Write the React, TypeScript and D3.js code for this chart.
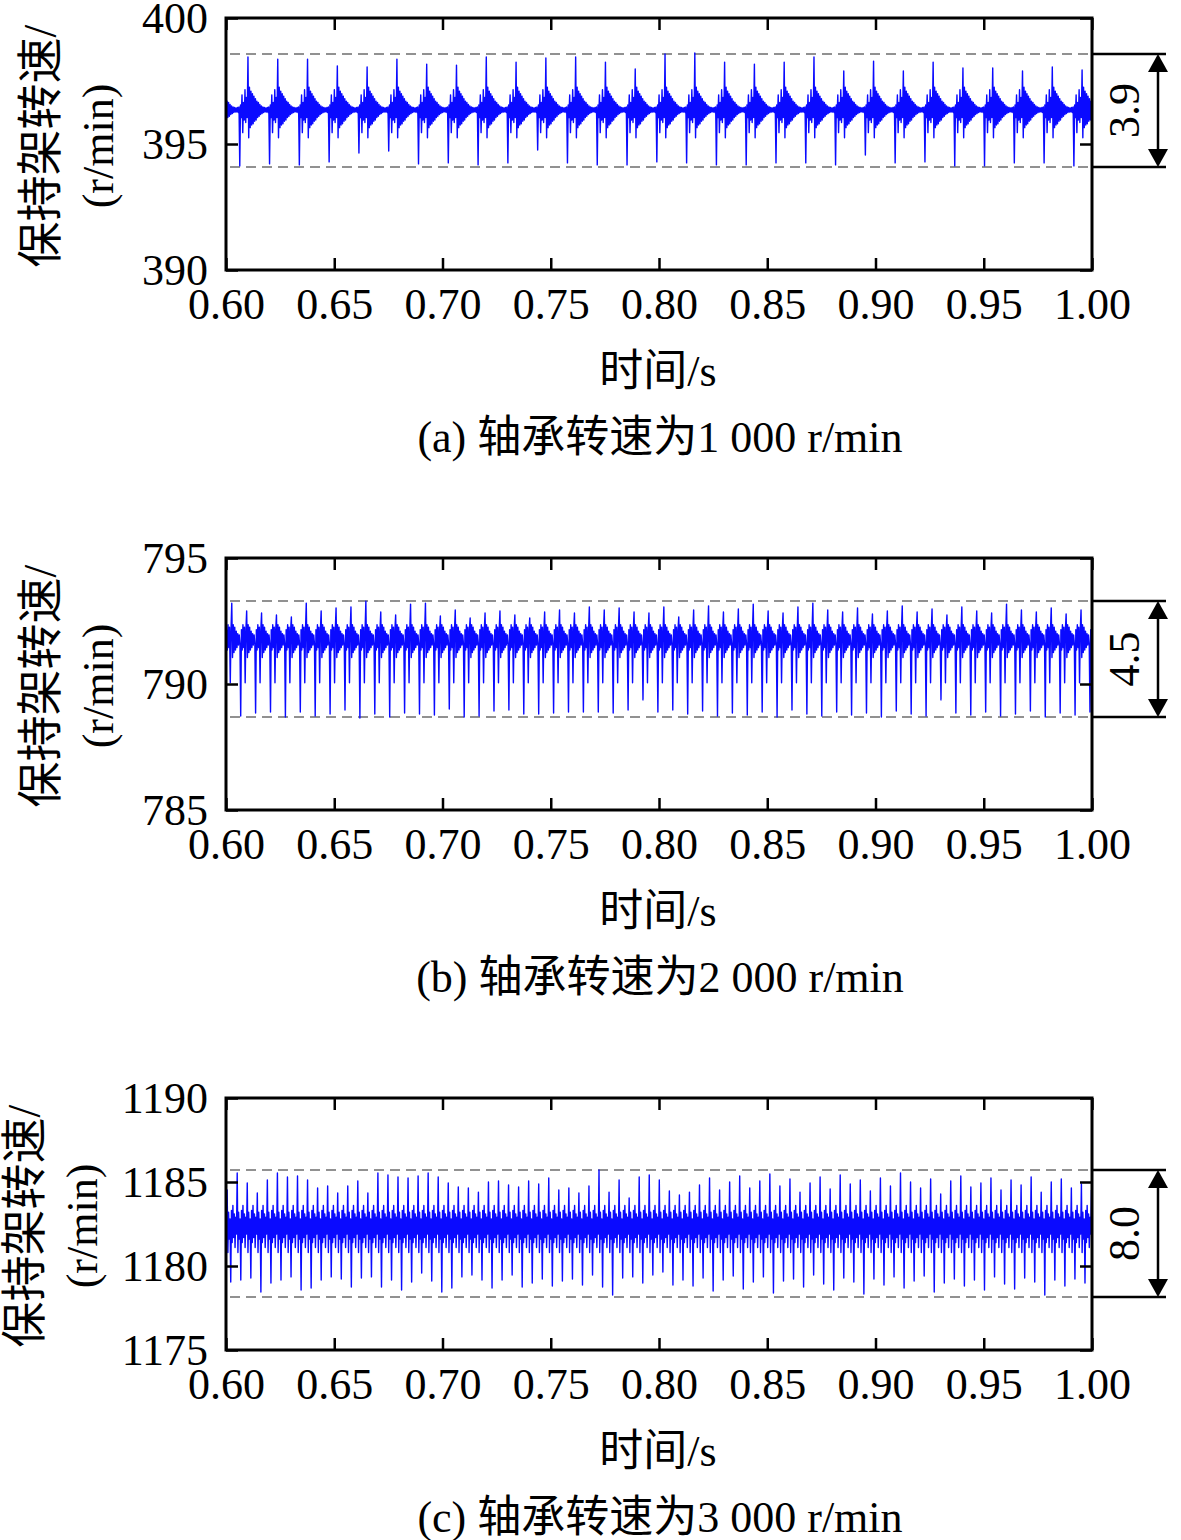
import * as d3 from "d3";
import React from "react";

// shared time axis
const timeDomain: [number, number] = [0.6, 1.0];
const timeTicks = [0.6, 0.65, 0.7, 0.75, 0.8, 0.85, 0.9, 0.95, 1.0];
const timeTitle = "时间/s";
const yTitle = ["保持架转速/", "(r/min)"];

// (a) 1 000 r/min
const yTicksA = [390, 395, 400];
const meanA = 396.35;
const firstSpikeA = 0.5926;
const spikePeriodA = 0.01376;
// one burst, offsets from the mean; index 0 = trough, index 11 = peak
const burstA = [
  0, 0.2, -0.3, 0.6, -0.9, 0.3, -0.4, 0.8, -0.5, 0.5, -0.3, 0, -1.1, 0.9, -0.7, 0.75, -0.6, 0.65, -0.55, 0.55,
  -0.45, 0.45, -0.4, 0.35, -0.3, 0.3, -0.25, 0.22, -0.18, 0.16, -0.14, 0.12, -0.1, 0.1, -0.08, 0.08, -0.08, 0.1,
  -0.1, 0.12,
];
const peaksA = [
  398.2, 398.45, 398.37, 398.37, 398.1, 398.06, 398.37, 398.17, 398.13, 398.45, 398.25, 398.41, 398.45, 398.25,
  397.98, 398.57, 398.61, 398.25, 398.17, 398.25, 398.45, 397.9, 398.29, 397.9, 398.25, 398.02, 398.02, 397.9,
  398.06, 397.94, 398.2,
];
const troughsA = [
  394.2, 394.13, 394.21, 394.17, 394.29, 394.64, 394.72, 394.21, 394.25, 394.17, 394.25, 394.76, 394.25, 394.17,
  394.17, 394.29, 394.25, 394.17, 394.17, 394.25, 394.25, 394.17, 394.56, 394.25, 394.29, 394.13, 394.13, 394.25,
  394.25, 394.13, 394.2,
];
const boundsA = [398.57, 394.09];
const rangeA = "3.9";
const captionA = "(a) 轴承转速为1 000 r/min";

// (b) 2 000 r/min
const yTicksB = [785, 790, 795];
const meanB = 791.75;
const firstSpikeB = 0.59991;
const spikePeriodB = 0.006882;
// index 0 = trough, index 8 = peak
const burstB = [
  0, 0.4, -0.4, 0.6, -0.3, 0.5, -1.7, 0.4, 0, -0.7, 0.6, -0.5, 0.5, -0.4, 0.35, -0.3, 0.25, -0.2, 0.2, -0.15,
];
const peaksB = [
  793.21, 792.9, 792.82, 792.74, 792.66, 793.21, 792.9, 793.02, 793.06, 793.29, 792.86, 792.74, 793.17, 793.21,
  792.7, 792.94, 792.62, 792.82, 792.9, 792.74, 792.62, 792.86, 792.94, 792.82, 793.06, 792.94, 793.02, 792.86,
  792.82, 793.06, 792.66, 792.94, 793.1, 792.86, 792.98, 793.17, 792.9, 792.82, 793.06, 793.21, 792.94, 792.86,
  793.02, 792.78, 792.9, 793.1, 792.86, 792.98, 792.74, 793.06, 792.9, 792.82, 793.17, 792.94, 792.86, 793.02,
  792.78, 792.94, 792.86,
];
const troughsB = [
  788.81, 788.73, 788.85, 788.89, 788.69, 788.89, 788.73, 788.81, 788.97, 788.65, 788.81, 788.69, 788.85, 788.81,
  788.77, 789.01, 788.69, 788.73, 788.93, 788.97, 788.81, 788.81, 788.85, 788.89, 788.89, 788.89, 788.85, 788.97,
  789.37, 788.89, 788.97, 788.81, 788.93, 788.73, 788.85, 788.77, 788.89, 788.69, 788.97, 788.81, 788.73, 788.89,
  788.77, 788.85, 788.69, 788.93, 788.81, 788.73, 789.37, 788.85, 788.77, 788.89, 788.73, 788.81, 788.93, 788.69,
  788.85, 788.77, 788.89,
];
const boundsB = [793.29, 788.69];
const rangeB = "4.5";
const captionB = "(b) 轴承转速为2 000 r/min";

// (c) 3 000 r/min
const yTicksC = [1175, 1180, 1185, 1190];
const meanC = 1182.3;
const firstSpikeC = 0.59755;
const spikePeriodC = 0.004642;
// index 0 = trough, index 9 = peak
const burstC = [0, 1.0, -0.9, 1.3, -0.6, 0.8, -1.2, 0.6, -0.4, 0, -1.5, 0.9, -0.7, 0.5];
const peaksC = [
  1184.52, 1185.54, 1184.94, 1184.35, 1185.12, 1185.54, 1185.3, 1185.36, 1185.12, 1184.64, 1184.76, 1184.35,
  1184.76, 1185.06, 1184.35, 1185.54, 1185.42, 1185.3, 1185.24, 1185.36, 1185.54, 1185.3, 1184.94, 1184.7,
  1184.64, 1184.4, 1185.0, 1185.06, 1184.82, 1184.7, 1185.06, 1184.88, 1185.24, 1184.52, 1184.64, 1184.35,
  1184.76, 1185.71, 1184.4, 1185.12, 1184.05, 1185.3, 1185.42, 1185.12, 1184.46, 1184.23, 1184.4, 1184.82,
  1185.24, 1184.52, 1185.0, 1185.36, 1184.64, 1185.06, 1185.48, 1184.76, 1185.18, 1184.4, 1184.94, 1185.3,
  1184.58, 1185.42, 1184.88, 1185.12, 1184.46, 1185.24, 1184.76, 1185.54, 1185.0, 1184.64, 1185.18, 1184.29,
  1185.06, 1185.36, 1184.7, 1184.94, 1185.24, 1184.52, 1185.12, 1184.82, 1185.3, 1184.4, 1185.0, 1185.18,
  1184.64, 1184.88, 1184.52,
];
const troughsC = [
  1179.17, 1179.05, 1179.17, 1179.29, 1178.45, 1178.99, 1179.17, 1179.35, 1178.57, 1178.69, 1179.17, 1179.35,
  1179.23, 1178.75, 1179.29, 1179.35, 1178.75, 1179.17, 1178.57, 1179.05, 1179.58, 1179.11, 1178.45, 1178.69,
  1179.35, 1179.46, 1179.17, 1178.69, 1179.17, 1179.46, 1178.75, 1178.99, 1179.23, 1178.81, 1179.11, 1179.23,
  1178.87, 1179.46, 1178.75, 1178.27, 1179.29, 1179.35, 1178.99, 1179.46, 1179.64, 1178.87, 1179.17, 1178.81,
  1179.29, 1178.51, 1179.17, 1179.4, 1178.63, 1179.05, 1179.35, 1178.39, 1179.11, 1179.23, 1178.75, 1179.46,
  1178.93, 1178.57, 1179.29, 1179.05, 1178.33, 1179.23, 1178.87, 1179.35, 1178.69, 1179.11, 1179.4, 1178.45,
  1178.99, 1179.23, 1178.81, 1179.17, 1178.57, 1179.35, 1178.93, 1178.63, 1179.29, 1179.05, 1178.27, 1179.17,
  1178.81, 1179.23, 1178.99,
];
const boundsC = [1185.71, 1178.15];
const rangeC = "8.0";
const captionC = "(c) 轴承转速为3 000 r/min";

interface PanelSpec {
  id: string;
  yTicks: number[];
  mean: number;
  firstSpike: number;
  period: number;
  burst: number[];
  troughIdx: number;
  peakIdx: number;
  peaks: number[];
  troughs: number[];
  bounds: number[];
  range: string;
  caption: string;
  titleX: [number, number];
}

const panels: PanelSpec[] = [
  { id: "a", yTicks: yTicksA, mean: meanA, firstSpike: firstSpikeA, period: spikePeriodA, burst: burstA,
    troughIdx: 0, peakIdx: 11, peaks: peaksA, troughs: troughsA, bounds: boundsA, range: rangeA,
    caption: captionA, titleX: [40, 98] },
  { id: "b", yTicks: yTicksB, mean: meanB, firstSpike: firstSpikeB, period: spikePeriodB, burst: burstB,
    troughIdx: 0, peakIdx: 8, peaks: peaksB, troughs: troughsB, bounds: boundsB, range: rangeB,
    caption: captionB, titleX: [40, 98] },
  { id: "c", yTicks: yTicksC, mean: meanC, firstSpike: firstSpikeC, period: spikePeriodC, burst: burstC,
    troughIdx: 0, peakIdx: 9, peaks: peaksC, troughs: troughsC, bounds: boundsC, range: rangeC,
    caption: captionC, titleX: [24, 82] },
];

const W = 1181;
const H = 1540;
const left = 226;
const plotW = 866;
const plotH = 252;
const tops = [18, 558, 1098];
const serif = "'Liberation Serif', 'Times New Roman', 'Noto Sans CJK SC', serif";
const mixed = "'Liberation Serif', 'Noto Sans CJK SC', serif";

type Pt = { t: number; v: number };

function buildSignal(p: PanelSpec): Pt[] {
  const n = p.burst.length;
  const pts: Pt[] = [];
  p.peaks.forEach((peak, k) => {
    p.burst.forEach((off, i) => {
      const t = p.firstSpike + (k + i / n) * p.period;
      let v = p.mean + off;
      if (i === p.troughIdx) v = p.troughs[k] ?? v;
      if (i === p.peakIdx) v = peak;
      pts.push({ t, v });
    });
  });
  return pts.filter((d) => d.t >= timeDomain[0] && d.t <= timeDomain[1]);
}

export default function App() {
  const svgRef = React.useRef<SVGSVGElement | null>(null);

  React.useEffect(() => {
    const svgEl = d3.select(svgRef.current);
    svgEl.selectAll("*").remove();

    panels.forEach((p, idx) => {
      const top = tops[idx];
      const x = d3.scaleLinear().domain(timeDomain).range([0, plotW]);
      const y = d3
        .scaleLinear()
        .domain([p.yTicks[0], p.yTicks[p.yTicks.length - 1]])
        .range([plotH, 0]);

      const g = svgEl.append("g").attr("transform", `translate(${left},${top})`);

      g.append("clipPath")
        .attr("id", `clip-${p.id}`)
        .append("rect")
        .attr("width", plotW)
        .attr("height", plotH);

      // bound lines
      p.bounds.forEach((b) => {
        g.append("line")
          .attr("x1", 4)
          .attr("x2", plotW)
          .attr("y1", y(b))
          .attr("y2", y(b))
          .attr("stroke", "#6e6e6e")
          .attr("stroke-width", 1.5)
          .attr("stroke-dasharray", "10,6");
      });

      // signal
      const line = d3
        .line<Pt>()
        .x((d) => x(d.t))
        .y((d) => y(d.v));
      g.append("path")
        .attr("clip-path", `url(#clip-${p.id})`)
        .attr("d", line(buildSignal(p)))
        .attr("fill", "none")
        .attr("stroke", "#0a0aff")
        .attr("stroke-width", 1.4)
        .attr("stroke-linejoin", "round");

      // axes, ticks inward
      const styleAxis = (ax: d3.Selection<SVGGElement, unknown, null, undefined>) => {
        ax.select(".domain").remove();
        ax.selectAll("line").attr("stroke", "#000").attr("stroke-width", 2.5);
        ax.selectAll("text")
          .attr("font-family", serif)
          .attr("font-size", 44)
          .attr("fill", "#000");
      };

      const xb = g
        .append("g")
        .attr("transform", `translate(0,${plotH})`)
        .call(d3.axisBottom(x).tickValues(timeTicks).tickSize(-12).tickPadding(18).tickFormat(d3.format(".2f")));
      styleAxis(xb);
      const xt = g.append("g").call(d3.axisTop(x).tickValues(timeTicks).tickSize(-12).tickFormat(() => ""));
      styleAxis(xt);
      const yl = g.append("g").call(d3.axisLeft(y).tickValues(p.yTicks).tickSize(-12).tickPadding(18).tickFormat(d3.format("d")));
      styleAxis(yl);
      const yr = g
        .append("g")
        .attr("transform", `translate(${plotW},0)`)
        .call(d3.axisRight(y).tickValues(p.yTicks).tickSize(-12).tickFormat(() => ""));
      styleAxis(yr);

      g.append("rect")
        .attr("width", plotW)
        .attr("height", plotH)
        .attr("fill", "none")
        .attr("stroke", "#000")
        .attr("stroke-width", 3);

      // range bracket
      const [yHi, yLo] = p.bounds.map((b) => y(b));
      const ax = plotW + 66;
      [yHi, yLo].forEach((yy) => {
        g.append("line")
          .attr("x1", plotW)
          .attr("x2", plotW + 74)
          .attr("y1", yy)
          .attr("y2", yy)
          .attr("stroke", "#000")
          .attr("stroke-width", 2.5);
      });
      g.append("line")
        .attr("x1", ax)
        .attr("x2", ax)
        .attr("y1", yHi + 10)
        .attr("y2", yLo - 10)
        .attr("stroke", "#000")
        .attr("stroke-width", 2.5);
      g.append("path")
        .attr("d", `M${ax},${yHi}L${ax - 10},${yHi + 18}L${ax + 10},${yHi + 18}Z`)
        .attr("fill", "#000");
      g.append("path")
        .attr("d", `M${ax},${yLo}L${ax - 10},${yLo - 18}L${ax + 10},${yLo - 18}Z`)
        .attr("fill", "#000");
      g.append("text")
        .attr("transform", `translate(${plotW + 32},${(yHi + yLo) / 2}) rotate(-90)`)
        .attr("text-anchor", "middle")
        .attr("dominant-baseline", "central")
        .attr("font-family", serif)
        .attr("font-size", 44)
        .text(p.range);

      // titles
      yTitle.forEach((t, i) => {
        svgEl
          .append("text")
          .attr("transform", `translate(${p.titleX[i]},${top + plotH / 2 + 2}) rotate(-90)`)
          .attr("text-anchor", "middle")
          .attr("dominant-baseline", "central")
          .attr("font-family", mixed)
          .attr("font-size", i === 0 ? 46 : 44)
          .text(t);
      });
      svgEl
        .append("text")
        .attr("x", left + plotW / 2 - 1)
        .attr("y", top + 353)
        .attr("text-anchor", "middle")
        .attr("dominant-baseline", "central")
        .attr("font-family", mixed)
        .attr("font-size", 44)
        .text(timeTitle);
      svgEl
        .append("text")
        .attr("x", left + plotW / 2 + 1)
        .attr("y", top + 419)
        .attr("text-anchor", "middle")
        .attr("dominant-baseline", "central")
        .attr("font-family", mixed)
        .attr("font-size", 44)
        .text(p.caption);
    });
  }, []);

  return (
    <svg
      ref={svgRef}
      width={W}
      height={H}
      style={{ position: "absolute", left: 0, top: 0, background: "#fff" }}
    />
  );
}
